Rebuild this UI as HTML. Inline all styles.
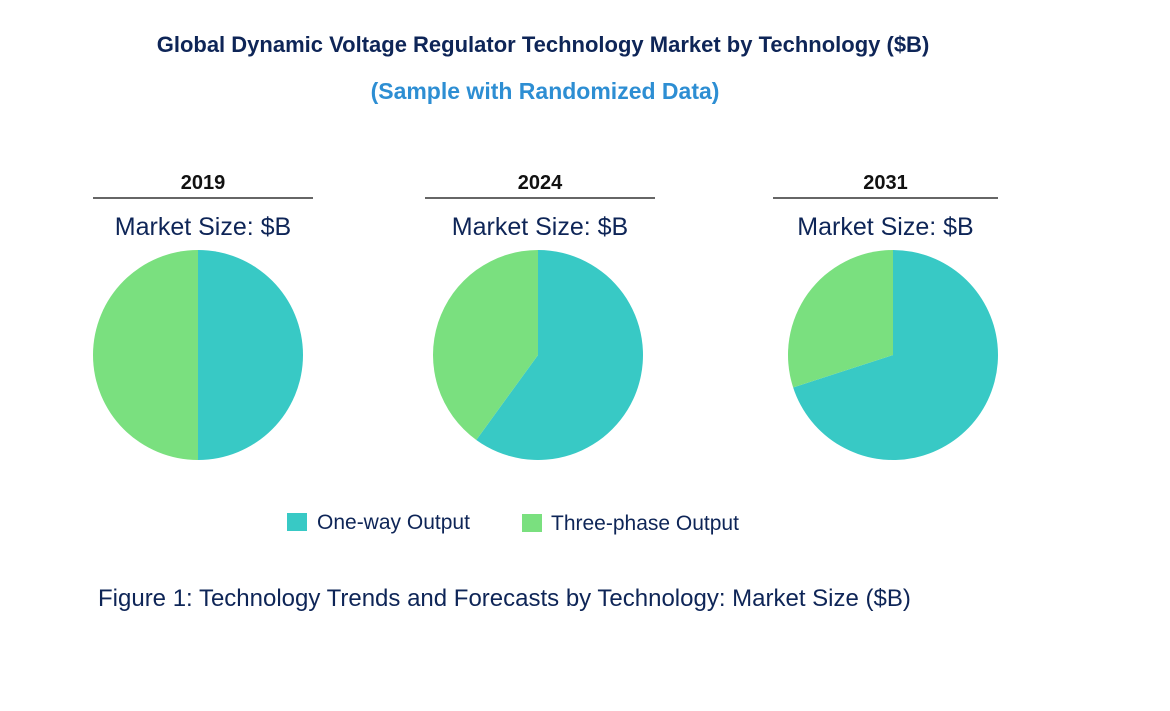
<!DOCTYPE html>
<html><head><meta charset="utf-8"><style>
body{margin:0;background:#fff;width:1170px;height:711px;overflow:hidden;font-family:"Liberation Sans",Arial,sans-serif}
svg{position:absolute;left:0;top:0}
</style></head><body>
<svg width="1170" height="711">
<text x="543" y="52" text-anchor="middle" font-size="22" font-weight="bold" fill="#0E2557">Global Dynamic Voltage Regulator Technology Market by Technology ($B)</text>
<text x="545" y="99" text-anchor="middle" font-size="23" font-weight="bold" fill="#2D8ED3">(Sample with Randomized Data)</text>
<g id="pies"></g>
<g>
<rect x="287" y="513" width="20" height="18" fill="#38C9C5"/>
<text x="317" y="529" font-size="21" fill="#0E2557">One-way Output</text>
<rect x="522" y="514" width="20" height="18" fill="#7AE07F"/>
<text x="551" y="530" font-size="21" fill="#0E2557">Three-phase Output</text>
</g>
<text x="98" y="606" font-size="24" fill="#0E2557">Figure 1: Technology Trends and Forecasts by Technology: Market Size ($B)</text>
</svg>
<script>
const years=["2019","2024","2031"];
const oneWay=[50,60,70];
const threePhase=[50,40,30];
const colors=["#38C9C5","#7AE07F"];
const cxs=[198,538,893];
const lines=[[93,313],[425,655],[773,998]];
const NS="http://www.w3.org/2000/svg";
const g=document.getElementById("pies");
function mk(t,a){const e=document.createElementNS(NS,t);for(const k in a)e.setAttribute(k,a[k]);g.appendChild(e);return e;}
years.forEach((y,i)=>{
 const cx=cxs[i],cy=355,r=105;
 const lx=(lines[i][0]+lines[i][1])/2;
 let t=mk("text",{x:lx,y:189,"text-anchor":"middle","font-size":20,"font-weight":"bold",fill:"#111"});t.textContent=y;
 
 
 let l=mk("line",{x1:lines[i][0],x2:lines[i][1],y1:198,y2:198,stroke:"#333","stroke-width":1.5});
 
 
 let m=mk("text",{x:lx,y:235,"text-anchor":"middle","font-size":25,fill:"#0E2557"});m.textContent="Market Size: $B";
 
 
 const vals=[oneWay[i],threePhase[i]];const tot=vals[0]+vals[1];
 let a0=0;
 vals.forEach((v,j)=>{
  const a1=a0+v/tot*2*Math.PI;
  const x0=cx+r*Math.sin(a0),y0=cy-r*Math.cos(a0),x1=cx+r*Math.sin(a1),y1=cy-r*Math.cos(a1);
  const large=(a1-a0)>Math.PI?1:0;
  const p=mk("path",{d:`M${cx},${cy}L${x0},${y0}A${r},${r} 0 ${large} 1 ${x1},${y1}Z`,fill:colors[j]});
  
  
  a0=a1;
 });
});
</script>
</body></html>
